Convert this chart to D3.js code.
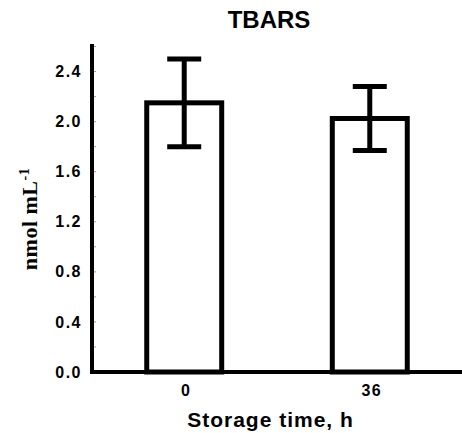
<!DOCTYPE html>
<html><head><meta charset="utf-8">
<script src="https://cdn.jsdelivr.net/npm/d3@7"></script>
<style>html,body{margin:0;padding:0;background:#fff;}svg{display:block;}</style>
</head><body>
<svg id="chart" width="462" height="433"></svg>
<script>
const categories = ["0", "36"];
const means = [2.15, 2.025];
const errHigh = [2.50, 2.28];
const errLow = [1.80, 1.77];
const yTicks = [0, 0.4, 0.8, 1.2, 1.6, 2.0, 2.4];
const yMinorTicks = [0.2, 0.6, 1.0, 1.4, 1.8, 2.2, 2.6];
const titleText = "TBARS";
const xLabelText = "Storage time, h";

const svg = d3.select("#chart");
const y = d3.scaleLinear().domain([0, 2.62]).range([372, 44]);
const x = d3.scaleBand().domain(categories).range([92, 462]).paddingInner(0.596).paddingOuter(0.295);

// title
svg.append("text").attr("x", 269).attr("y", 28).attr("text-anchor", "middle")
  .attr("font-family", "Liberation Sans, Arial, sans-serif").attr("font-weight", "bold")
  .attr("font-size", 24).text(titleText);

// bars
const g = svg.append("g");
g.selectAll("rect.bar").data(categories).join("rect").attr("class", "bar")
  .attr("x", d => x(d)).attr("width", x.bandwidth())
  .attr("y", (d, i) => y(means[i])).attr("height", (d, i) => y(0) - y(means[i]))
  .attr("fill", "#fff").attr("stroke", "#000").attr("stroke-width", 5);

// error bars
const cx = d => x(d) + x.bandwidth() / 2;
g.selectAll("line.stem").data(categories).join("line").attr("class", "stem")
  .attr("x1", cx).attr("x2", cx)
  .attr("y1", (d, i) => y(errLow[i])).attr("y2", (d, i) => y(errHigh[i]))
  .attr("stroke", "#000").attr("stroke-width", 5);
g.selectAll("line.capH").data(categories).join("line").attr("class", "capH")
  .attr("x1", d => cx(d) - 17).attr("x2", d => cx(d) + 17)
  .attr("y1", (d, i) => y(errHigh[i])).attr("y2", (d, i) => y(errHigh[i]))
  .attr("stroke", "#000").attr("stroke-width", 5);
g.selectAll("line.capL").data(categories).join("line").attr("class", "capL")
  .attr("x1", d => cx(d) - 17).attr("x2", d => cx(d) + 17)
  .attr("y1", (d, i) => y(errLow[i])).attr("y2", (d, i) => y(errLow[i]))
  .attr("stroke", "#000").attr("stroke-width", 5);

// y axis
const yAxis = d3.axisLeft(y).tickValues(yTicks).tickFormat(d3.format(".1f")).tickSize(0).tickPadding(10);
const ya = svg.append("g").attr("transform", "translate(92,0)").call(yAxis);
ya.select(".domain").remove();
ya.selectAll("text").attr("font-family", "Liberation Sans, Arial, sans-serif")
  .attr("font-weight", "bold").attr("font-size", 16).attr("letter-spacing", "1.5px").attr("fill", "#000");
// tiny inward ticks
svg.append("g").selectAll("line").data(yTicks.concat(yMinorTicks)).join("line")
  .attr("x1", 94).attr("x2", 96).attr("y1", d => y(d)).attr("y2", d => y(d))
  .attr("stroke", "#999").attr("stroke-width", 1);
svg.append("line").attr("x1", 92).attr("x2", 92).attr("y1", 44).attr("y2", 374)
  .attr("stroke", "#000").attr("stroke-width", 4);

// x axis
const xAxis = d3.axisBottom(x).tickSize(0).tickPadding(13);
const xa = svg.append("g").attr("transform", "translate(2,372)").call(xAxis);
xa.select(".domain").remove();
xa.selectAll("text").attr("font-family", "Liberation Sans, Arial, sans-serif")
  .attr("font-weight", "bold").attr("font-size", 16).attr("letter-spacing", "1.5px").attr("fill", "#000");
svg.append("line").attr("x1", 90).attr("x2", 462).attr("y1", 372).attr("y2", 372)
  .attr("stroke", "#000").attr("stroke-width", 4);

// x label
svg.append("text").attr("x", 270.5).attr("y", 427).attr("text-anchor", "middle")
  .attr("font-family", "Liberation Sans, Arial, sans-serif").attr("font-weight", "bold")
  .attr("font-size", 21).attr("letter-spacing", "1px").text(xLabelText);

// y label
const yl = svg.append("text").attr("transform", "translate(37,219) rotate(-90)")
  .attr("text-anchor", "middle").attr("font-family", "Liberation Serif, Times New Roman, serif")
  .attr("font-weight", "bold").attr("font-size", 22).attr("letter-spacing", "0.5px");
yl.append("tspan").text("nmol mL");
yl.append("tspan").attr("dy", -8).attr("font-size", 14).text("-1");
</script>
</body></html>
